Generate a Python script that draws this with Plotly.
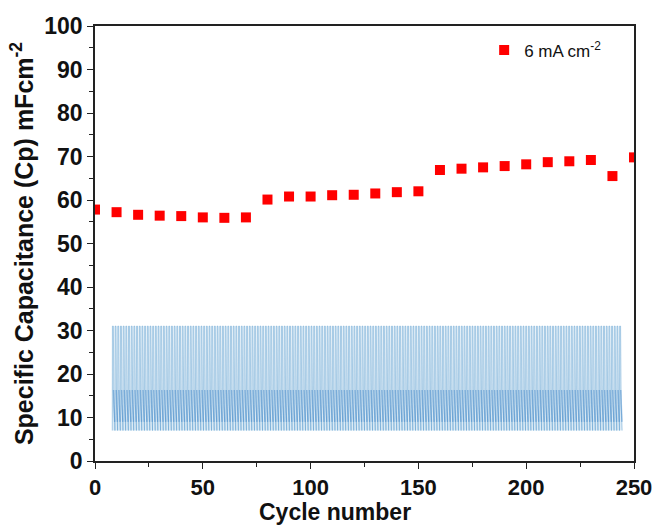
import plotly.graph_objects as go

# Specific capacitance vs cycle number
cycles = [0, 10, 20, 30, 40, 50, 60, 70, 80, 90, 100, 110, 120, 130, 140, 150,
          160, 170, 180, 190, 200, 210, 220, 230, 240, 250]
capacitance = [57.8, 57.2, 56.6, 56.4, 56.3, 56.0, 55.9, 56.0, 60.1, 60.8, 60.8, 61.1,
               61.2, 61.5, 61.8, 62.0, 66.9, 67.2, 67.5, 67.8, 68.2, 68.7, 68.9, 69.2,
               65.5, 69.8]

# Background GCD curves: one cycle's shape (fraction of period, plotted value)
cycle_shape_t = [0.0, 0.06, 0.42, 0.47, 0.62, 0.80, 0.92, 1.0]
cycle_shape_v = [7.0, 31.0, 31.0, 16.3, 13.0, 10.5, 9.0, 7.0]
gcd_start = 8.0
gcd_end = 244.5
gcd_n_cycles = 190

period = (gcd_end - gcd_start) / gcd_n_cycles
gx, gy = [], []          # full cycles, closed shapes
bx, by = [], []          # discharge plateau part (darker band)
for k in range(gcd_n_cycles):
    x0 = gcd_start + k * period
    for t, v in zip(cycle_shape_t, cycle_shape_v):
        gx.append(x0 + t * period)
        gy.append(v)
    gx.append(None); gy.append(None)
    for t, v in list(zip(cycle_shape_t, cycle_shape_v))[3:7]:
        bx.append(x0 + t * period)
        by.append(v)
    bx.append(None); by.append(None)

FONT = "Arial, Liberation Sans, sans-serif"

fig = go.Figure()
fig.add_trace(go.Scatter(
    x=gx, y=gy, mode="lines", fill="toself",
    fillcolor="rgba(170,205,230,0.4)",
    line=dict(color="rgba(80,150,205,0.45)", width=1),
    showlegend=False, hoverinfo="skip"))
fig.add_trace(go.Scatter(
    x=bx, y=by, mode="lines",
    line=dict(color="rgba(60,130,200,0.45)", width=1.5),
    showlegend=False, hoverinfo="skip"))
fig.add_trace(go.Scatter(
    x=cycles, y=capacitance, mode="markers",
    marker=dict(symbol="square", size=10, color="#ff0000"),
    name="6 mA cm<sup>-2</sup>"))

axis_common = dict(
    showline=True, linecolor="#222", linewidth=1.5, mirror=True,
    ticks="outside", ticklen=6, tickwidth=1.3, tickcolor="#222",
    showgrid=False, zeroline=False, automargin=False,
    tickprefix="<b>", ticksuffix="</b>",
)

fig.update_layout(
    width=655, height=527,
    margin=dict(l=95, r=21, t=26, b=66),
    paper_bgcolor="white", plot_bgcolor="white",
    xaxis=dict(range=[0, 250], dtick=50,
               minor=dict(dtick=25, ticks="outside", ticklen=4, tickcolor="#222"),
               tickfont=dict(family=FONT, size=22, color="#111"),
               **axis_common),
    yaxis=dict(range=[0, 100], dtick=10,
               minor=dict(dtick=5, ticks="outside", ticklen=4, tickcolor="#222"),
               tickfont=dict(family=FONT, size=23, color="#111"),
               title=dict(text="<b>Specific Capacitance (Cp) mFcm<sup>-2</sup></b>", standoff=4,
                          font=dict(family=FONT, size=25, color="#111")),
               **axis_common),
    legend=dict(x=0.722, y=0.985, xanchor="left", yanchor="top",
                bgcolor="rgba(0,0,0,0)", font=dict(family=FONT, size=17, color="#111")),
    annotations=[dict(text="<b>Cycle number</b>", xref="paper", yref="paper",
                      x=0.445, y=-0.149, xanchor="center", yanchor="bottom",
                      borderpad=0, showarrow=False,
                      font=dict(family=FONT, size=23, color="#111"))],
)

fig.write_html("out.html")
